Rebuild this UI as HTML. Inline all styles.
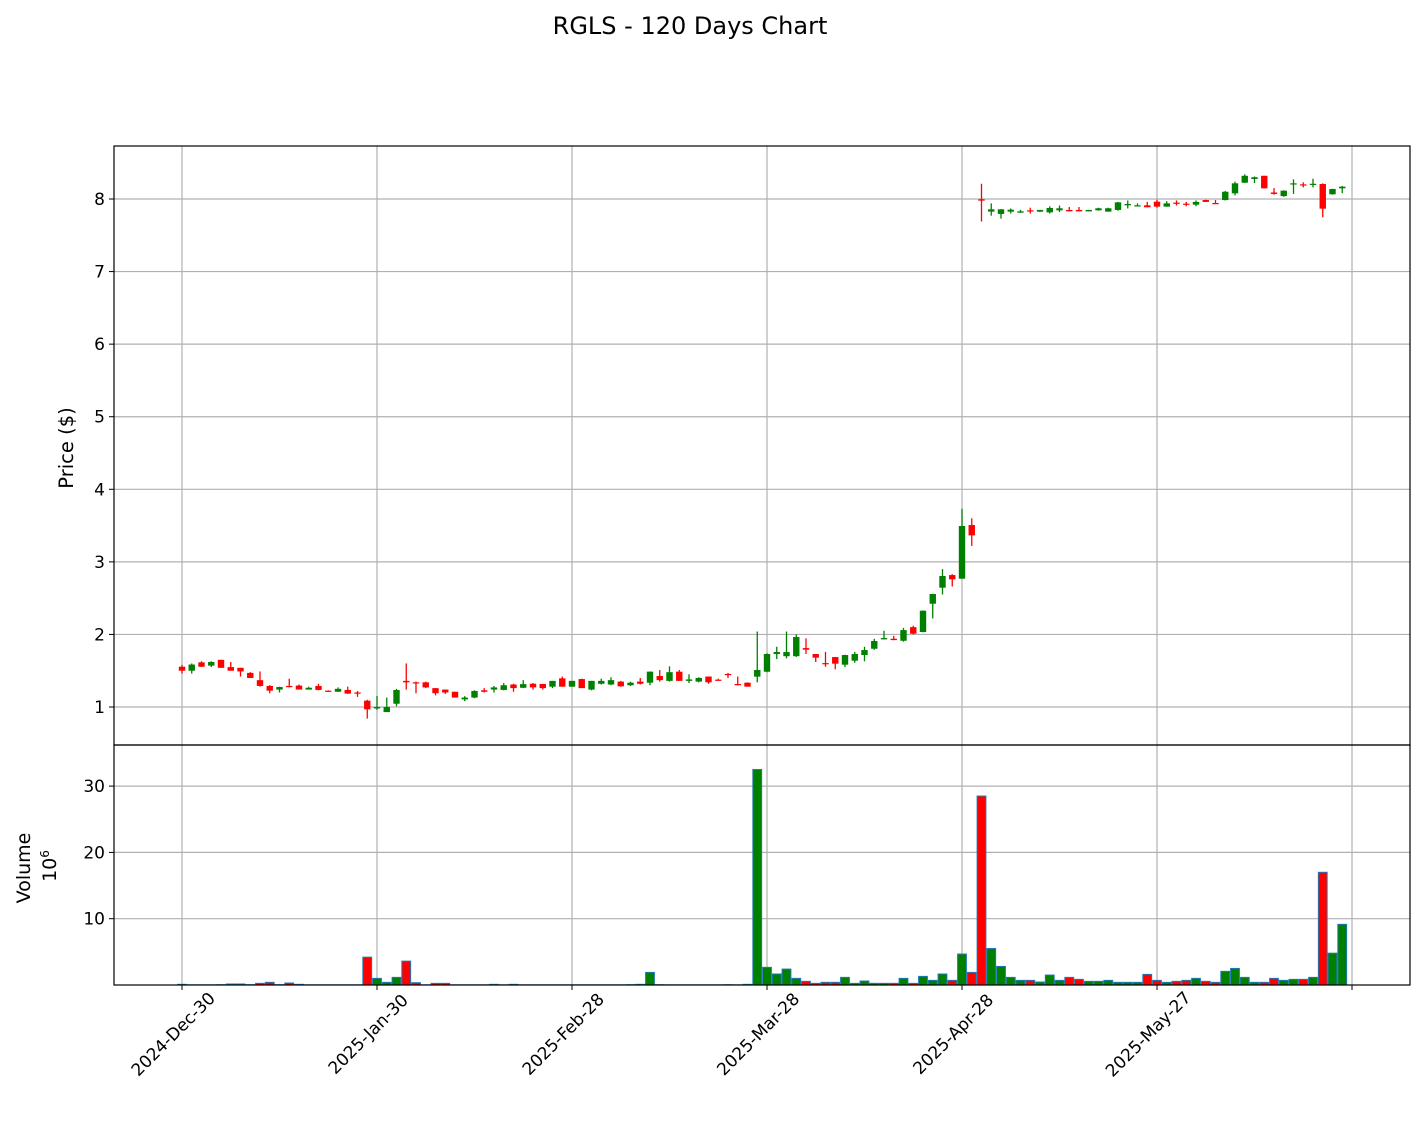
<!DOCTYPE html>
<html><head><meta charset="utf-8">
<style>
html,body{margin:0;padding:0;background:#fff;}
svg{display:block;font-family:"DejaVu Sans","Liberation Sans",sans-serif;}
</style></head>
<body>
<svg id="chart" width="1424" height="1127" viewBox="0 0 1424 1127" xmlns="http://www.w3.org/2000/svg">
<rect x="0" y="0" width="1424" height="1127" fill="#fff"/>
<text x="690" y="34" font-size="24" text-anchor="middle" fill="#000">RGLS - 120 Days Chart</text>
<g id="grid"></g>
<g id="marks"></g>
<g id="axes"></g>
<text transform="translate(73,448) rotate(-90)" font-size="19.5" text-anchor="middle">Price ($)</text>
<text transform="translate(30,868) rotate(-90)" font-size="19" text-anchor="middle">Volume</text>
<text transform="translate(56,866) rotate(-90)" font-size="19" text-anchor="middle">10<tspan font-size="12" dy="-7">6</tspan></text>
</svg>
<script>
const opens=[1.555,1.50,1.615,1.57,1.65,1.55,1.54,1.47,1.37,1.29,1.24,1.29,1.295,1.24,1.29,1.225,1.21,1.235,1.20,1.087,
0.98,0.93,1.045,1.36,1.34,1.34,1.26,1.24,1.21,1.105,1.13,1.23,1.24,1.235,1.31,1.265,1.32,1.317,1.28,1.395,
1.28,1.385,1.24,1.32,1.31,1.35,1.30,1.35,1.335,1.427,1.36,1.487,1.36,1.35,1.42,1.377,1.455,1.317,1.335,1.418,
1.486,1.73,1.70,1.70,1.812,1.73,1.605,1.688,1.583,1.638,1.716,1.803,1.932,1.94,1.913,2.10,2.033,2.423,2.644,2.818,
2.768,3.507,7.996,7.826,7.794,7.826,7.812,7.844,7.826,7.816,7.844,7.849,7.849,7.83,7.844,7.826,7.849,7.913,7.903,7.913,
7.963,7.895,7.95,7.936,7.922,7.986,7.945,7.986,8.078,8.225,8.276,8.32,8.09,8.04,8.21,8.202,8.20,8.207,8.065,8.147];
const closes=[1.50,1.585,1.555,1.62,1.54,1.50,1.49,1.40,1.29,1.225,1.275,1.275,1.24,1.265,1.235,1.21,1.25,1.185,1.19,0.968,
1.00,1.00,1.234,1.34,1.33,1.27,1.19,1.20,1.13,1.13,1.22,1.21,1.27,1.30,1.26,1.315,1.27,1.26,1.36,1.28,
1.36,1.26,1.36,1.36,1.37,1.285,1.335,1.32,1.487,1.37,1.48,1.36,1.38,1.40,1.34,1.37,1.445,1.30,1.28,1.51,
1.73,1.757,1.757,1.964,1.79,1.68,1.597,1.597,1.716,1.73,1.785,1.909,1.95,1.922,2.06,2.01,2.327,2.557,2.805,2.759,
3.494,3.365,7.977,7.858,7.858,7.853,7.83,7.83,7.849,7.876,7.872,7.83,7.83,7.849,7.872,7.872,7.954,7.932,7.913,7.886,
7.895,7.94,7.936,7.922,7.96,7.96,7.94,8.10,8.216,8.32,8.30,8.147,8.07,8.115,8.216,8.193,8.21,7.867,8.138,8.17];
const highs=[1.58,1.60,1.63,1.63,1.65,1.62,1.54,1.48,1.49,1.30,1.28,1.39,1.31,1.28,1.32,1.23,1.27,1.28,1.22,1.10,
1.15,1.13,1.25,1.60,1.35,1.35,1.26,1.24,1.21,1.15,1.23,1.26,1.29,1.33,1.32,1.37,1.33,1.32,1.36,1.42,
1.36,1.39,1.36,1.39,1.41,1.36,1.35,1.40,1.49,1.51,1.56,1.51,1.45,1.41,1.42,1.39,1.47,1.42,1.34,2.04,
1.74,1.83,2.04,2.00,1.946,1.73,1.76,1.69,1.72,1.76,1.83,1.94,2.05,1.98,2.09,2.12,2.33,2.56,2.90,2.83,
3.73,3.60,8.21,7.94,7.86,7.87,7.85,7.88,7.85,7.90,7.91,7.89,7.89,7.85,7.88,7.88,7.96,7.98,7.94,7.96,
7.99,7.97,7.98,7.96,7.98,7.99,7.986,8.11,8.24,8.34,8.31,8.32,8.15,8.12,8.27,8.23,8.28,8.216,8.14,8.18];
const lows=[1.46,1.46,1.55,1.55,1.54,1.50,1.42,1.40,1.28,1.19,1.20,1.27,1.24,1.24,1.23,1.21,1.21,1.18,1.14,0.84,
0.96,0.93,1.01,1.24,1.19,1.26,1.16,1.18,1.13,1.08,1.12,1.20,1.20,1.23,1.21,1.26,1.24,1.24,1.26,1.28,
1.28,1.26,1.23,1.31,1.30,1.28,1.29,1.31,1.30,1.35,1.35,1.36,1.33,1.34,1.32,1.36,1.40,1.30,1.28,1.34,
1.48,1.66,1.67,1.69,1.73,1.62,1.555,1.52,1.55,1.61,1.63,1.79,1.93,1.92,1.90,2.0,2.03,2.22,2.55,2.66,
2.768,3.22,7.69,7.77,7.73,7.80,7.81,7.80,7.82,7.80,7.82,7.83,7.83,7.83,7.84,7.826,7.84,7.87,7.90,7.886,
7.88,7.895,7.91,7.90,7.90,7.96,7.94,7.98,8.05,8.22,8.22,8.147,8.06,8.03,8.07,8.16,8.16,7.748,8.06,8.08];
const volumes=[0.1,0.03,0.03,0.03,0.05,0.15,0.15,0.05,0.25,0.4,0.05,0.3,0.1,0.03,0.03,0.03,0.03,0.03,0.03,4.2,
1.0,0.4,1.15,3.6,0.35,0.03,0.25,0.25,0.03,0.03,0.03,0.03,0.1,0.03,0.1,0.03,0.03,0.03,0.03,0.03,
0.03,0.03,0.03,0.03,0.03,0.03,0.05,0.1,1.9,0.05,0.03,0.03,0.03,0.03,0.03,0.03,0.05,0.03,0.1,32.5,
2.66,1.66,2.4,1.0,0.55,0.25,0.4,0.4,1.15,0.25,0.6,0.25,0.25,0.25,1.0,0.25,1.3,0.7,1.66,0.7,
4.67,1.9,28.5,5.5,2.8,1.15,0.7,0.7,0.45,1.5,0.7,1.15,0.85,0.55,0.55,0.7,0.4,0.4,0.4,1.6,
0.7,0.4,0.55,0.7,1.0,0.55,0.4,2.06,2.5,1.15,0.4,0.4,1.0,0.7,0.85,0.85,1.15,17.0,4.8,9.15];
const xTickLabels=["2024-Dec-30","2025-Jan-30","2025-Feb-28","2025-Mar-28","2025-Apr-28","2025-May-27",""];
const xTickIndex=[0,20,40,60,80,100,120];
const priceTicks=[1,2,3,4,5,6,7,8];
const volumeTicks=[10,20,30];

const NS="http://www.w3.org/2000/svg";
const L=114,R=1410,PT=146,PB=745,VT=745,VB=985;
function xS(i){return 182+i*9.75;}
function yP(p){return 707-(p-1)*72.57;}
function yV(v){return 985-v*6.63;}
function mk(tag,attrs,parent){const e=document.createElementNS(NS,tag);for(const k in attrs)e.setAttribute(k,attrs[k]);parent.appendChild(e);return e;}
const grid=document.getElementById('grid'),marks=document.getElementById('marks'),axes=document.getElementById('axes');

xTickIndex.forEach((ti,k)=>{
  const x=xS(ti);
  const g1=mk('line',{x1:x,x2:x,y1:PT,y2:PB,stroke:'#b0b0b0','stroke-width':1.2},grid);
  
  
  const g2=mk('line',{x1:x,x2:x,y1:VT,y2:VB,stroke:'#b0b0b0','stroke-width':1.2},grid);
  
  
  const t=mk('line',{x1:x,x2:x,y1:VB,y2:VB+5,stroke:'#000','stroke-width':1},axes);
  
  
  if(xTickLabels[k]){
    const tx=mk('text',{'font-size':17,'text-anchor':'middle',dy:6,transform:'translate('+(x-9)+',1034) rotate(-45)',fill:'#000'},axes);
    tx.textContent=xTickLabels[k];
    
    
  }
});
priceTicks.forEach(p=>{
  const y=yP(p);
  const g=mk('line',{x1:L,x2:R,y1:y,y2:y,stroke:'#b0b0b0','stroke-width':1.2},grid);
  
  
  const t=mk('line',{x1:L-5,x2:L,y1:y,y2:y,stroke:'#000'},axes);
  
  
  const tx=mk('text',{x:L-9,y:y+6,'font-size':17,'text-anchor':'end'},axes);
  tx.textContent=p;
  
  
});
volumeTicks.forEach(v=>{
  const y=yV(v);
  const g=mk('line',{x1:L,x2:R,y1:y,y2:y,stroke:'#b0b0b0','stroke-width':1.2},grid);
  
  
  const t=mk('line',{x1:L-5,x2:L,y1:y,y2:y,stroke:'#000'},axes);
  
  
  const tx=mk('text',{x:L-9,y:y+6,'font-size':17,'text-anchor':'end'},axes);
  tx.textContent=v;
  
  
});

opens.forEach((o,i)=>{
  const c=closes[i],up=c>=o,col=up?'#008000':'#ff0000';
  const x=xS(i);
  const w=mk('line',{x1:x,x2:x,y1:yP(highs[i]),y2:yP(lows[i]),stroke:col,'stroke-width':1.3},marks);
  
  
  const top=yP(Math.max(o,c)),bot=yP(Math.min(o,c));
  const b=mk('rect',{x:x-3.2,y:top,width:6.4,height:Math.max(bot-top,1.2),fill:col},marks);
  
  
  const vy=yV(volumes[i]);
  const vb=mk('rect',{x:x-4.4,y:vy,width:8.8,height:VB-vy,fill:col,stroke:'#1f77b4','stroke-width':1},marks);
  
  
});

const f1=mk('rect',{x:L,y:PT,width:R-L,height:PB-PT,fill:'none',stroke:'#000','stroke-width':1.2},axes);


const f2=mk('rect',{x:L,y:VT,width:R-L,height:VB-VT,fill:'none',stroke:'#000','stroke-width':1.2},axes);


</script>
</body></html>
